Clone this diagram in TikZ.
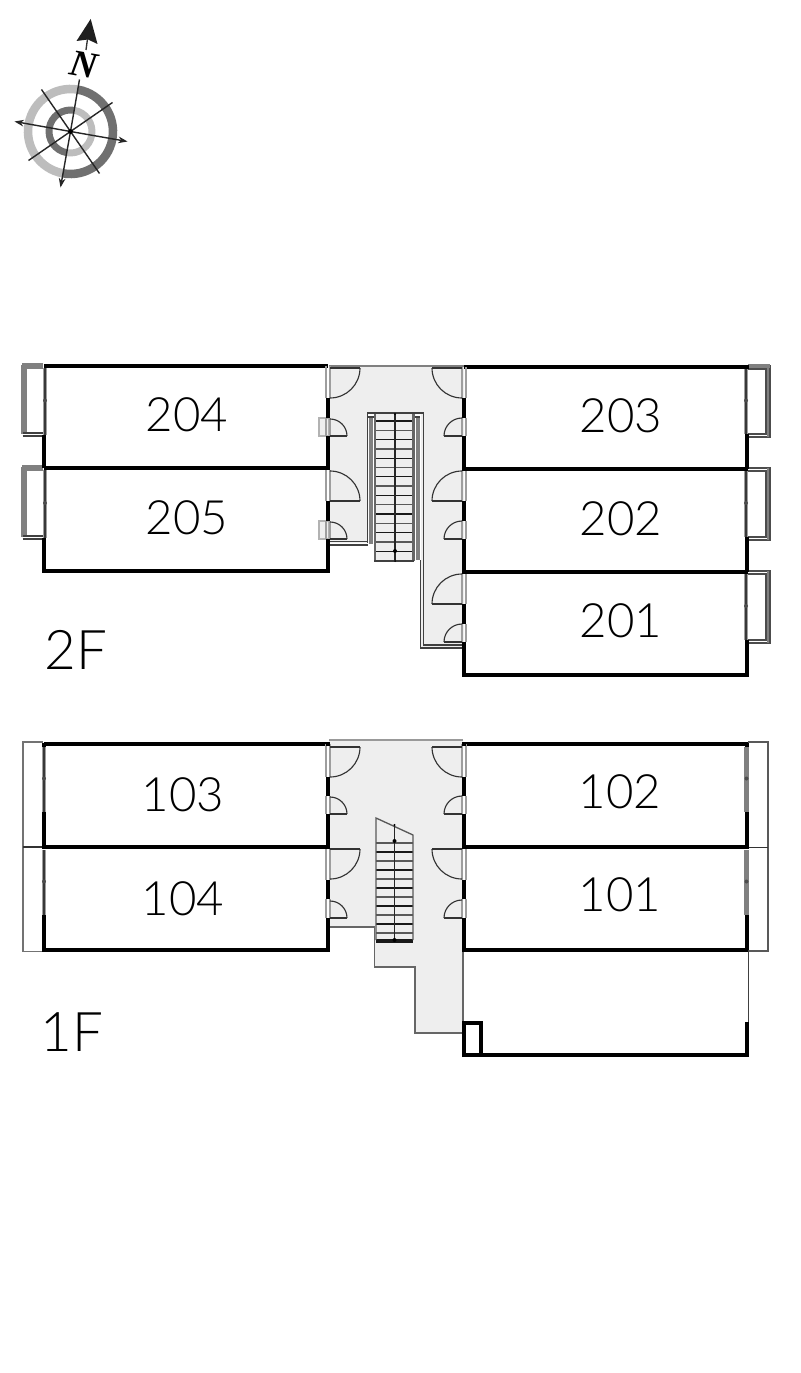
\documentclass[tikz,border=0pt]{standalone}
\usepackage{fontspec}
\setmainfont{Lato Light}
\newfontfamily\compassfont[BoldItalicFont={Liberation Serif Bold Italic}]{Liberation Serif}
\usetikzlibrary{arrows.meta}
\definecolor{floorgray}{HTML}{EEEEEE}
\definecolor{ringdark}{HTML}{707070}
\definecolor{ringlight}{HTML}{BDBDBD}
\definecolor{bandgray}{HTML}{808080}
\tikzset{
  every node/.style={inner sep=0pt,outer sep=0pt},
  wall/.style={line width=3.3pt,line cap=butt,black},
  thinline/.style={line width=0.9pt,black!75},
  glass/.style={line width=0.8pt,black!38},
  band/.style={line width=3.2pt,bandgray},
  doorleaf/.style={line width=0.85pt,black!80},
  stepline/.style={line width=0.9pt,black!90},
  stepsoft/.style={line width=1pt,black!65},
  unitlabel/.style={font=\fontsize{35.5}{35.5}\selectfont,anchor=center},
  floorlabel/.style={font=\fontsize{41}{41}\selectfont,anchor=center},
  compassline/.style={line width=1.05pt,black!85},
  ctip/.style={-{Stealth[length=7pt,width=5pt]}},
}
\newcommand{\doorL}[3]{%
  \draw[doorleaf] (#1+#3,#2) -- (#1,#2);
  \draw[doorleaf] (#1+#3,#2) arc[start angle=0,end angle=-90,radius=#3];}
\newcommand{\doorLd}[3]{%
  \draw[doorleaf] (#1+#3,#2) -- (#1,#2);
  \draw[doorleaf] (#1+#3,#2) arc[start angle=0,end angle=90,radius=#3];}
\newcommand{\doorR}[3]{%
  \draw[doorleaf] (#1-#3,#2) -- (#1,#2);
  \draw[doorleaf] (#1-#3,#2) arc[start angle=180,end angle=270,radius=#3];}
\newcommand{\doorRd}[3]{%
  \draw[doorleaf] (#1-#3,#2) -- (#1,#2);
  \draw[doorleaf] (#1-#3,#2) arc[start angle=180,end angle=90,radius=#3];}
\newcommand{\gapwall}[3]{%
  \draw[glass] (#1-2,#2) -- (#1-2,#3) (#1+2,#2) -- (#1+2,#3);}
\newcommand{\outerwin}[3]{%
  \draw[line width=3.2pt,black!38] (#1,#2) -- (#1,#3);
  \draw[line width=1.2pt,black!78] (#1,#2) -- (#1,#3);
  \fill[black!70] (#1,{(#2+#3)/2-1}) circle[radius=2];}
\begin{document}
\begin{tikzpicture}[x=0.75pt,y=-0.75pt]
\useasboundingbox (0,0) rectangle (800,1373);
\fill[white] (0,0) rectangle (800,1373);

% ---------- compass ----------
\begin{scope}[shift={(70.5,131.5)}]
  \draw[ringlight,line width=6.4pt] (-80:42.5) arc[start angle=-80,end angle=-260,radius=42.5];
  \draw[ringdark,line width=6.4pt] (-80:42.5) arc[start angle=-80,end angle=100,radius=42.5];
  \draw[ringdark,line width=5.2pt] (-80:21.5) arc[start angle=-80,end angle=-260,radius=21.5];
  \draw[ringlight,line width=5.2pt] (-80:21.5) arc[start angle=-80,end angle=100,radius=21.5];
  \coordinate (cc) at (0,0);
  \coordinate (cN) at (9,-52);
  \coordinate (cS) at (-10,56);
  \coordinate (cW) at (-56,-10);
  \coordinate (cE) at (57,10);
  \coordinate (cA) at (-29,-42);
  \coordinate (cB) at (29,42);
  \coordinate (cC) at (-42,29);
  \coordinate (cD) at (42,-29);
  \draw[compassline] (cN) -- (cc);
  \draw[compassline,ctip] (cc) -- (cS);
  \draw[compassline,ctip] (cc) -- (cW);
  \draw[compassline,ctip] (cc) -- (cE);
  \draw[compassline] (cA) -- (cB);
  \draw[compassline] (cC) -- (cD);
  \fill[black] (cc) circle[radius=2.4];
\end{scope}
\coordinate (npeak) at (90.7,19);
\fill[black!88] (npeak) -- (97.5,44) -- (88,39.5) -- (76.5,41) -- cycle;
\draw[line width=1pt,black!80] (87.5,39) -- (86,50);
\node[rotate=-10,font=\compassfont\bfseries\itshape\fontsize{28}{28}\selectfont] (north) at (83.5,65) {N};

% ---------- 2F corridor ----------
\fill[floorgray] (329,366) -- (464,366) -- (464,647) -- (421,647) -- (421,414) -- (368,414) -- (368,543) -- (329,543) -- cycle;
\fill[floorgray] (374,414) rectangle (414,561);
\draw[line width=1.8pt,bandgray] (329,366) -- (464,366);
\draw[band,line width=2.6pt] (371,417) -- (371,544);
\draw[thinline] (367.5,543) -- (367.5,413) -- (423.5,413);
\draw[thinline] (367.5,545) -- (329,545);
\draw[thinline] (329,541.5) -- (368,541.5);
\draw[band,line width=2.6pt] (418,417) -- (418,560);
\draw[thinline] (423.5,413) -- (423.5,645) -- (464,645);
\draw[thinline] (420.5,560) -- (420.5,648) -- (464,648);
\draw[thinline] (374,417) -- (368,417);
\draw[thinline] (420,417) -- (414,417);
\foreach \i in {0,2,...,14}{\draw[stepline] (375,{421+\i*9.3}) -- (413,{421+\i*9.3});}
\foreach \i in {1,3,...,15}{\draw[stepsoft] (375,{421+\i*9.3}) -- (413,{421+\i*9.3});}
\draw[line width=1.7pt,black!60] (375,414) -- (375,561);
\draw[line width=1.7pt,black!60] (413.5,414) -- (413.5,561);
\draw[line width=0.8pt,black!85] (395,414) -- (395,561);
\draw[thinline] (374,561) -- (414,561);
\fill[black] (395,414) circle[radius=1.1];
\fill[black] (395,551) circle[radius=2];
\fill[black] (395,561) circle[radius=1];

% ---------- 2F units ----------
\draw[wall] (44,366) -- (328,366) (44,468) -- (328,468) (44,571) -- (328,571);
\draw[wall] (464,367) -- (748,367) (464,469) -- (748,469) (464,572) -- (748,572) (464,675) -- (748,675);
\foreach \a/\b in {366/436,468/539}{
  \draw[line width=4.2pt,bandgray] (24,\a-1) -- (24,\b-2);
  \draw[line width=3.8pt,bandgray] (22,\a) -- (43,\a);
  \draw[thinline] (22.5,\b) -- (43,\b);
  \draw[thinline,line width=0.8pt] (22.5,\b-3) -- (43,\b-3);
}
\outerwin{45}{368}{435}
\outerwin{45}{470}{538}
\draw[wall] (44,435) -- (44,468) (44,538) -- (44,573);
\foreach \a/\b in {366/437,468/540,571/643}{
  \draw[line width=0.9pt,black!70] (748,\a) -- (770,\a) -- (770,\b) -- (748,\b);
  \draw[line width=0.9pt,black!70] (748,\a+3) -- (766,\a+3) -- (766,\b-3) -- (748,\b-3);
  \draw[line width=1.4pt,black!50] (768,\a) -- (768,\b);
}
\draw[line width=3.2pt,bandgray] (748,366) -- (770,366);
\outerwin{746}{369}{434}
\outerwin{746}{471}{537}
\outerwin{746}{574}{640}
\draw[wall] (747,365) -- (747,369) (747,434) -- (747,469) (747,537) -- (747,572) (747,640) -- (747,677);

\draw[line width=0.8pt,black!30,fill=floorgray] (319,418) rectangle (329,436);
\draw[line width=0.8pt,black!30,fill=floorgray] (319,521) rectangle (329,539);
\gapwall{328}{366}{398}\gapwall{328}{418}{436}\gapwall{328}{470}{501}\gapwall{328}{521}{539}
\draw[wall] (328,398) -- (328,418) (328,436) -- (328,470) (328,501) -- (328,521) (328,539) -- (328,573);
\doorLd{330}{368}{30}\doorL{330}{436}{17}\doorL{330}{501}{30}\doorL{330}{539}{17}
\gapwall{464}{367}{398}\gapwall{464}{418}{436}\gapwall{464}{471}{501}\gapwall{464}{521}{539}\gapwall{464}{574}{604}\gapwall{464}{624}{642}
\draw[wall] (464,398) -- (464,418) (464,436) -- (464,471) (464,501) -- (464,521) (464,539) -- (464,574) (464,604) -- (464,624) (464,642) -- (464,677);
\doorRd{462}{368}{30}\doorR{462}{436}{18}\doorR{462}{501}{30}\doorR{462}{539}{18}\doorR{462}{604}{30}\doorR{462}{642}{18}

% ---------- 1F corridor ----------
\fill[floorgray] (329,740) -- (463,740) -- (463,1033) -- (415,1033) -- (415,967) -- (374.5,967) -- (374.5,927) -- (329,927) -- cycle;
\draw[line width=1pt,black!40] (329,740) -- (463,740);
\draw[line width=0.9pt,black!60] (329,927) -- (374.5,927) -- (374.5,967) -- (415,967) -- (415,1033) -- (463,1033);
\foreach \i in {0,2,...,10}{\draw[stepsoft] (376,{843+\i*9}) -- (413,{843+\i*9});}
\foreach \i in {1,3,...,11}{\draw[stepline] (376,{843+\i*9}) -- (413,{843+\i*9});}
\draw[stepline] (376,940) -- (413,940);
\draw[line width=1pt,black!65] (376,940) -- (376,818) -- (413,835) -- (413,940);
\draw[line width=0.8pt,black!85] (394.5,825) -- (394.5,940);
\fill[black] (394.5,825) circle[radius=1.2];
\fill[black] (394.5,841) circle[radius=2];
\fill[black] (394.5,940) circle[radius=2];

% ---------- 1F units ----------
\draw[wall] (44,744) -- (328,744) (44,847) -- (328,847) (44,950) -- (328,950);
\draw[wall] (464,744) -- (748,744) (464,847) -- (748,847) (464,950) -- (748,950) (464,1055) -- (748,1055);
\draw[line width=1.1pt,black!55] (43,742) -- (23,742) -- (23,951.5) -- (43,951.5);
\draw[line width=0.9pt,black!80] (23,847) -- (43,847);
\draw[line width=1.1pt,black!65] (748,742) -- (768,742) -- (768,951) -- (748,951);
\draw[line width=0.9pt,black!80] (748,847.5) -- (768,847.5);
\outerwin{44}{747}{812}\outerwin{44}{850}{915}
\draw[wall] (44,742.5) -- (44,747) (44,812) -- (44,849) (44,915) -- (44,952);
\foreach \a/\b in {747/812,850/915}{
  \draw[line width=3.2pt,bandgray] (746.5,\a) -- (746.5,\b);
  \fill[black!70] (746.5,{(\a+\b)/2-1}) circle[radius=2];
}
\draw[wall] (747,742.5) -- (747,747) (747,812) -- (747,849) (747,915) -- (747,952) (747,1022) -- (747,1057);
\draw[line width=0.9pt,black!75] (748.5,950) -- (748.5,1022);
\gapwall{328}{744}{777}\gapwall{328}{796}{814}\gapwall{328}{849}{880}\gapwall{328}{899}{918}
\draw[wall] (328,742) -- (328,746) (328,777) -- (328,796) (328,814) -- (328,849) (328,880) -- (328,899) (328,918) -- (328,952);
\doorLd{330}{747}{30}\doorL{330}{814}{17}\doorLd{330}{849}{30}\doorL{330}{918}{17}
\gapwall{464}{744}{777}\gapwall{464}{796}{814}\gapwall{464}{849}{880}\gapwall{464}{899}{918}
\draw[wall] (464,742) -- (464,746) (464,777) -- (464,796) (464,814) -- (464,849) (464,880) -- (464,899) (464,918) -- (464,952);
\doorRd{462}{747}{30}\doorR{462}{814}{18}\doorRd{462}{849}{30}\doorR{462}{918}{18}
\draw[line width=0.9pt,black!60] (463,952) -- (463,1022);
\draw[wall,line width=2.9pt] (464,1057) -- (464,1023) -- (481,1023) -- (481,1055);

% ---------- labels ----------
\node[unitlabel] (u204) at (187,414.5) {204};
\node[unitlabel] (u205) at (187,517.5) {205};
\node[unitlabel] (u203) at (621,415.5) {203};
\node[unitlabel] (u202) at (621,518.5) {202};
\node[unitlabel] (u201) at (621,620.5) {201};
\node[unitlabel] (u103) at (183,794.5) {103};
\node[unitlabel] (u104) at (183,898.5) {104};
\node[unitlabel] (u102) at (620,791.5) {102};
\node[unitlabel] (u101) at (620,894.5) {101};
\node[floorlabel] (f2) at (76,650) {2F};
\node[floorlabel] (f1) at (72,1032) {1F};
\end{tikzpicture}
\end{document}
